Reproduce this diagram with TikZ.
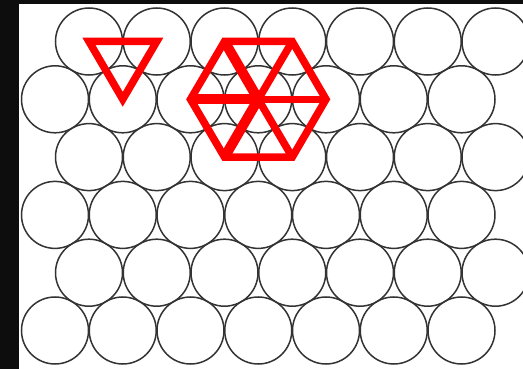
\documentclass[tikz,border=0pt]{standalone}
\begin{document}
\begin{tikzpicture}[
    x=1pt,y=-1pt,
    ball/.style={draw=black!80,line width=1.5pt},
    edge/.style={draw=red,line width=7.5pt,line join=miter},
    heavy/.style={draw=red,line width=10pt}
]
\useasboundingbox (0,0) rectangle (523,369);
\fill[black!95] (0,0) rectangle (523,369);
\fill[white] (19,4) rectangle (523,369);

% circle centres, row r, place i
\foreach \r in {1,...,6} {
  \pgfmathsetmacro{\xs}{isodd(\r) ? 89 : 55}
  \foreach \i in {1,...,7} {
    \coordinate (c-\r-\i) at ({\xs+(\i-1)*67.75},{41.5+(\r-1)*57.8});
    \draw[ball] (c-\r-\i) circle (33.5);
  }
}

% triangle
\draw[edge] (c-1-1) -- (c-1-2) -- (c-2-2) -- cycle;

% hexagon round c-2-4
\draw[edge] (c-1-3) -- (c-1-4) -- (c-2-5) -- (c-3-4) -- (c-3-3) -- (c-2-3) -- cycle;
\draw[edge] (c-2-4) -- (c-2-5);
\draw[edge] (c-2-4) -- (c-1-4);
\draw[edge] (c-2-4) -- (c-3-4);
\draw[heavy] (c-2-3) -- (c-2-4);
\draw[heavy] (c-1-3) -- (c-2-4) -- (c-3-3);
\end{tikzpicture}
\end{document}
